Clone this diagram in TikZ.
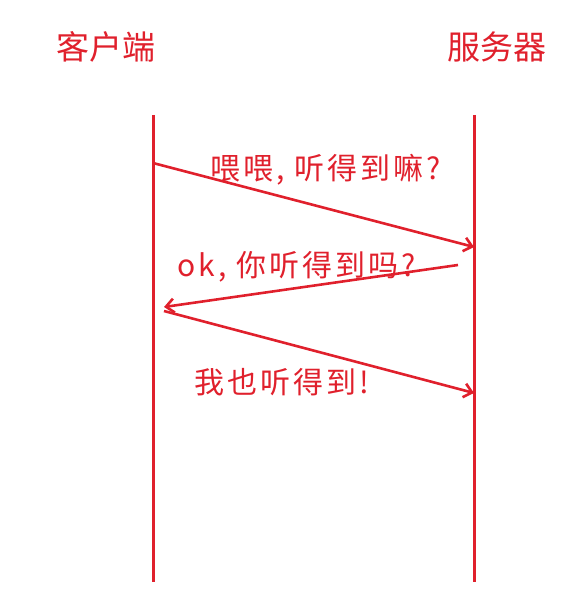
\documentclass[tikz,border=0pt]{standalone}
\usepackage{fontspec}
\newfontfamily\cjk{Noto Sans CJK SC}
\newfontfamily\cjkwide[LetterSpace=10]{Noto Sans CJK SC}
\usetikzlibrary{arrows.meta}
\definecolor{linered}{RGB}{224,32,44}

\begin{document}
\begin{tikzpicture}[x=1pt, y=-1pt,
        lifeline/.style={line width=3pt, draw=linered},
        msg/.style={line width=2.6pt, draw=linered, -{Straight Barb[length=8pt, width=14pt]}},
        head/.style={text=linered, inner sep=0pt, font=\cjk\fontsize{33}{35}\selectfont},
        says/.style={text=linered, inner sep=0pt, anchor=west, font=\cjkwide\fontsize{30}{32}\selectfont}]
        \useasboundingbox (0,0) rectangle (565,607);

        % the two sides
        \node[head] (client) at (106,47) {客户端};
        \node[head] (server) at (497,47) {服务器};

        % lifelines
        \coordinate (client top) at (153,115);
        \coordinate (client bottom) at (153,582);
        \coordinate (server top) at (474,115);
        \coordinate (server bottom) at (474,582);
        \draw[lifeline] (client top) -- (client bottom);
        \draw[lifeline] (server top) -- (server bottom);

        % message ends
        \coordinate (ask from) at (153,163);
        \coordinate (ask to) at (474,247);
        \coordinate (reply from) at (458,265);
        \coordinate (reply to) at (164,307);
        \coordinate (ack from) at (164,311);
        \coordinate (ack to) at (474,393);

        % messages
        \draw[msg] (ask from) -- (ask to);
        \node[says] (ask) at (210,170) {喂喂, 听得到嘛?};
        \draw[msg] (reply from) -- (reply to);
        \node[says] (reply) at (177,267) {ok, 你听得到吗?};
        \draw[msg] (ack from) -- (ack to);
        \node[says] (ack) at (194,382) {我也听得到!};
\end{tikzpicture}
\end{document}
